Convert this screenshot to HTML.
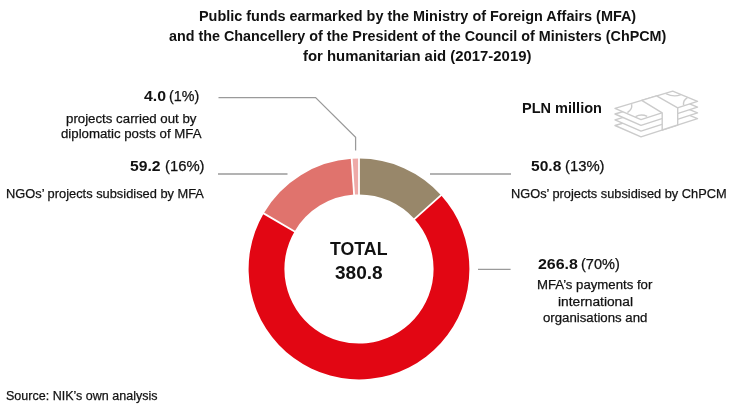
<!DOCTYPE html>
<html><head><meta charset="utf-8"><title>Public funds for humanitarian aid</title><style>
html,body{margin:0;padding:0;background:#fff;}
body{position:relative;width:731px;height:415px;overflow:hidden;font-family:"Liberation Sans",sans-serif;color:#111;}
.t{position:absolute;white-space:nowrap;line-height:1;transform-origin:0 0;}
#tx{position:absolute;left:0;top:0;width:731px;height:415px;will-change:transform;}
.b{font-weight:bold;}
.t:not(.b){-webkit-text-stroke:0.25px #111;}
svg{position:absolute;left:0;top:0;}
</style></head><body>
<svg width="731" height="415" viewBox="0 0 731 415">
<path d="M359.00,158.60 A110.4,110.4 0 0 1 441.08,195.16 L414.46,219.11 A74.6,74.6 0 0 0 359.00,194.40 Z" fill="#98876a"/><path d="M441.08,195.16 A110.4,110.4 0 1 1 263.63,213.38 L294.56,231.42 A74.6,74.6 0 1 0 414.46,219.11 Z" fill="#e20613"/><path d="M263.63,213.38 A110.4,110.4 0 0 1 351.72,158.84 L354.08,194.56 A74.6,74.6 0 0 0 294.56,231.42 Z" fill="#e0736d"/><path d="M351.72,158.84 A110.4,110.4 0 0 1 359.00,158.60 L359.00,194.40 A74.6,74.6 0 0 0 354.08,194.56 Z" fill="#eeaaa8"/>
<line x1="359.00" y1="196.40" x2="359.00" y2="156.60" stroke="#fff" stroke-width="1.8"/><line x1="412.97" y1="220.44" x2="442.56" y2="193.83" stroke="#fff" stroke-width="1.8"/><line x1="296.29" y1="232.42" x2="261.91" y2="212.37" stroke="#fff" stroke-width="1.8"/><line x1="354.21" y1="196.56" x2="351.59" y2="156.84" stroke="#fff" stroke-width="1.8"/>
<g stroke="#9a9a9a" stroke-width="1.25" fill="none">
<polyline points="218.5,97.5 315.6,97.5 355.6,137.2 355.6,150.5"/>
<line x1="218" y1="174" x2="287.5" y2="174" stroke-width="1.6"/>
<line x1="430" y1="174" x2="511" y2="174" stroke-width="1.6"/>
<line x1="478" y1="269.4" x2="510.6" y2="269.4" stroke-width="1.4"/>
</g>
<g stroke="#cbcbcb" stroke-width="1.4" fill="#fff" stroke-linejoin="round">
<polygon points="615.0,125.5 672.7,108.3 697.5,118.7 641.0,136.8"/>
<polygon points="615.0,119.8 672.7,102.6 697.5,112.9 641.0,131.1"/>
<polygon points="615.0,114.0 672.7,96.8 697.5,107.2 641.0,125.3"/>
<polygon points="615.0,108.3 672.7,91.1 697.5,101.4 641.0,119.6"/>
<polygon points="641.7,100.3 656.6,95.9 677.7,107.8 677.7,125.0 662.2,130.0 662.2,112.8"/>
<path fill="none" d="M631.6,104.2 Q632.6,109.4 627.4,112.6"/>
<path fill="none" d="M635.6,116.6 Q641.2,113.6 647.2,116.4"/>
<path fill="none" d="M665.9,93.6 Q674,97.6 680.8,94.6"/>
<path fill="none" d="M683.6,105.2 Q682.8,100.4 687.4,97.6"/>
</g>
</svg>
<div id="tx">
<div class="t b" id="t1" style="left:198.59px;top:9.40px;font-size:14.97px;transform:scaleX(0.9638)">Public funds earmarked by the Ministry of Foreign Affairs (MFA)</div>
<div class="t b" id="t2" style="left:168.60px;top:29.31px;font-size:14.97px;transform:scaleX(0.9583)">and the Chancellery of the President of the Council of Ministers (ChPCM)</div>
<div class="t b" id="t3" style="left:302.53px;top:48.90px;font-size:14.97px;transform:scaleX(0.9948)">for humanitarian aid (2017-2019)</div>
<div class="t b" id="pln" style="left:521.58px;top:100.81px;font-size:14.97px;transform:scaleX(0.9711)">PLN million</div>
<div class="t b" id="l1h" style="left:143.56px;top:88.71px;font-size:14.24px;transform:scaleX(1.1157)">4.0</div>
<div class="t" id="l1p" style="left:168.58px;top:88.71px;font-size:14.24px;transform:scaleX(1.0053)">(1%)</div>
<div class="t" id="l1a" style="left:65.53px;top:111.80px;font-size:13.52px;transform:scaleX(0.9812)">projects carried out by</div>
<div class="t" id="l1b" style="left:60.57px;top:127.30px;font-size:13.52px;transform:scaleX(0.9792)">diplomatic posts of MFA</div>
<div class="t b" id="l2h" style="left:129.61px;top:159.01px;font-size:14.53px;transform:scaleX(1.0839)">59.2</div>
<div class="t" id="l2p" style="left:164.60px;top:159.01px;font-size:14.53px;transform:scaleX(1.0210)">(16%)</div>
<div class="t" id="l2a" style="left:5.60px;top:186.80px;font-size:13.52px;transform:scaleX(0.9502)">NGOs’ projects subsidised by MFA</div>
<div class="t b" id="r1h" style="left:530.59px;top:159.11px;font-size:14.53px;transform:scaleX(1.0718)">50.8</div>
<div class="t" id="r1p" style="left:564.57px;top:159.11px;font-size:14.53px;transform:scaleX(1.0210)">(13%)</div>
<div class="t" id="r1a" style="left:510.54px;top:186.71px;font-size:13.52px;transform:scaleX(0.9462)">NGOs’ projects subsidised by ChPCM</div>
<div class="t b" id="r2h" style="left:537.58px;top:256.90px;font-size:14.53px;transform:scaleX(1.0982)">266.8</div>
<div class="t" id="r2p" style="left:580.58px;top:256.90px;font-size:14.53px;transform:scaleX(1.0012)">(70%)</div>
<div class="t" id="r2a" style="left:536.53px;top:277.80px;font-size:13.52px;transform:scaleX(0.9758)">MFA’s payments for</div>
<div class="t" id="r2b" style="left:557.53px;top:294.71px;font-size:13.52px;transform:scaleX(1.0181)">international</div>
<div class="t" id="r2c" style="left:542.52px;top:311.30px;font-size:13.52px;transform:scaleX(0.9784)">organisations and</div>
<div class="t b" id="tot" style="left:329.56px;top:239.61px;font-size:18.46px;transform:scaleX(0.9622)">TOTAL</div>
<div class="t b" id="num" style="left:334.58px;top:264.51px;font-size:17.88px;transform:scaleX(1.0660)">380.8</div>
<div class="t" id="src" style="left:5.62px;top:388.90px;font-size:13.52px;transform:scaleX(0.9267)">Source: NIK’s own analysis</div>
</div>
</body></html>
